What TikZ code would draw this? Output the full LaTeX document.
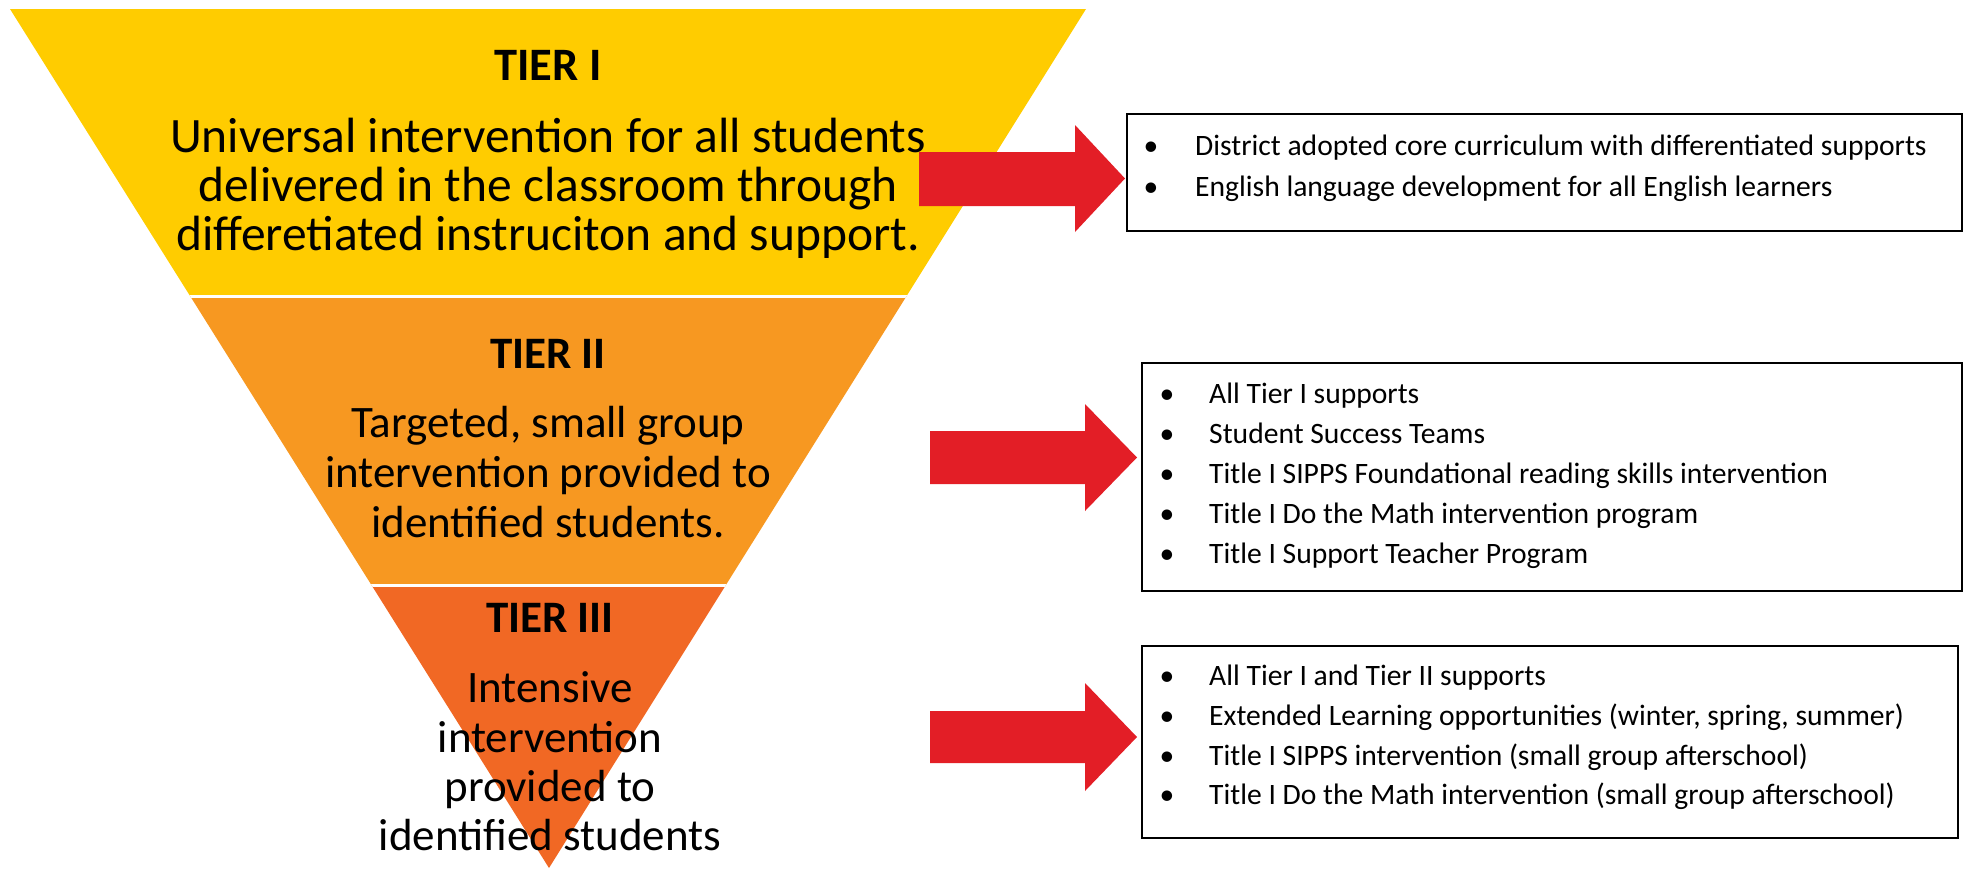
\documentclass[tikz,border=0pt]{standalone}
\usepackage{fontspec}
\setmainfont{Carlito}
\definecolor{tierone}{RGB}{255,204,0}
\definecolor{tiertwo}{RGB}{247,152,33}
\definecolor{tierthree}{RGB}{241,104,36}
\definecolor{arrowred}{RGB}{227,30,38}
\begin{document}
\begin{tikzpicture}[x=1pt,y=-1pt,
  tiertitle/.style={font=\fontsize{45}{49}\selectfont\bfseries, anchor=base, inner sep=0pt},
  tiertext/.style={font=\fontsize{45}{49}\selectfont, anchor=base, inner sep=0pt},
  bigtext/.style={font=\fontsize{49.5}{49}\selectfont, anchor=base, inner sep=0pt},
  itemtext/.style={font=\fontsize{29.6}{40}\selectfont, anchor=base west, inner sep=0pt},
  bul/.style={font=\fontsize{29.6}{40}\selectfont, anchor=base, inner sep=0pt},
  listbox/.style={draw=black, line width=2.2pt, fill=white, anchor=north west, inner sep=0pt},
  redarrow/.style={fill=arrowred, draw=none}]
\useasboundingbox (0,0) rectangle (1965,868);
% inverted triangle in three bands
\begin{scope}
  \clip (10,9) -- (1086,9) -- (549,868) -- cycle;
  \fill[tierone] (0,0) rectangle (1100,296);
  \fill[tiertwo] (0,296) rectangle (1100,585.5);
  \fill[tierthree] (0,585.5) rectangle (1100,870);
  \draw[white, line width=3pt] (0,296) -- (1100,296);
  \draw[white, line width=3pt] (0,585.5) -- (1100,585.5);
\end{scope}
% tier texts
\node[tiertitle, font=\fontsize{46.5}{49}\selectfont\bfseries] (t1) at (548,80) {TIER I};
\node[bigtext] (t1a) at (548,152) {Universal intervention for all students};
\node[bigtext] (t1b) at (548,201) {delivered in the classroom through};
\node[bigtext] (t1c) at (548,250) {differetiated instruciton and support.};
\node[tiertitle] (t2) at (548,368) {TIER II};
\node[tiertext] (t2a) at (548,437) {Targeted, small group};
\node[tiertext] (t2b) at (548,487) {intervention provided to};
\node[tiertext] (t2c) at (548,537) {identified students.};
\node[tiertitle] (t3) at (550,632) {TIER III};
\node[tiertext] (t3a) at (550,702) {Intensive};
\node[tiertext] (t3b) at (550,752) {intervention};
\node[tiertext] (t3c) at (550,801) {provided to};
\node[tiertext] (t3d) at (550,850) {identified students};
% red block arrows
\fill[redarrow] (919,152) -- (1075,152) -- (1075,125) -- (1125,178.5) -- (1075,232) -- (1075,206) -- (919,206) -- cycle;
\fill[redarrow] (930,431) -- (1085,431) -- (1085,404) -- (1137,457.5) -- (1085,511) -- (1085,484) -- (930,484) -- cycle;
\fill[redarrow] (930,711) -- (1085,711) -- (1085,683) -- (1137,737) -- (1085,791) -- (1085,763) -- (930,763) -- cycle;
% boxes
\node[listbox, minimum width=835pt, minimum height=117pt] (box1) at (1126,113) {};
\node[listbox, minimum width=820pt, minimum height=228pt] (box2) at (1141,362) {};
\node[listbox, minimum width=816pt, minimum height=192pt] (box3) at (1141,645) {};
% box 1 items
\node[bul] (b1a) at (1151,155) {•};
\node[itemtext] (i1a) at (1195,155) {District adopted core curriculum with differentiated supports};
\node[bul] (b1b) at (1151,196) {•};
\node[itemtext] (i1b) at (1195,196) {English language development for all English learners};
% box 2 items
\node[bul] (b2a) at (1167,403) {•};
\node[itemtext] (i2a) at (1209,403) {All Tier I supports};
\node[bul] (b2b) at (1167,443) {•};
\node[itemtext] (i2b) at (1209,443) {Student Success Teams};
\node[bul] (b2c) at (1167,483) {•};
\node[itemtext] (i2c) at (1209,483) {Title I SIPPS Foundational reading skills intervention};
\node[bul] (b2d) at (1167,523) {•};
\node[itemtext] (i2d) at (1209,523) {Title I Do the Math intervention program};
\node[bul] (b2e) at (1167,563) {•};
\node[itemtext] (i2e) at (1209,563) {Title I Support Teacher Program};
% box 3 items
\node[bul] (b3a) at (1167,685) {•};
\node[itemtext] (i3a) at (1209,685) {All Tier I and Tier II supports};
\node[bul] (b3b) at (1167,725) {•};
\node[itemtext] (i3b) at (1209,725) {Extended Learning opportunities (winter, spring, summer)};
\node[bul] (b3c) at (1167,765) {•};
\node[itemtext] (i3c) at (1209,765) {Title I SIPPS intervention (small group afterschool)};
\node[bul] (b3d) at (1167,804) {•};
\node[itemtext] (i3d) at (1209,804) {Title I Do the Math intervention (small group afterschool)};
\end{tikzpicture}
\end{document}
